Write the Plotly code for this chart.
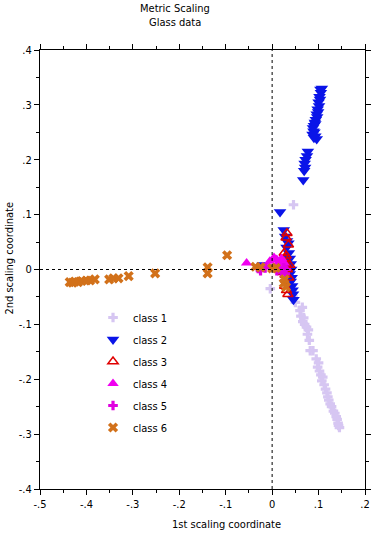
import plotly.graph_objects as go

# ---------------- data ----------------
class1_x = [0.046, -0.004, 0.065, 0.060, 0.062, 0.068, 0.066, 0.070, 0.074, 0.078, 0.076, 0.080, 0.082, 0.088,
            0.095, 0.100, 0.098, 0.102, 0.105, 0.109, 0.107, 0.112, 0.115, 0.118, 0.120, 0.122, 0.125, 0.128,
            0.132, 0.135, 0.138, 0.140, 0.142, 0.145, 0.143, 0.050, 0.045, 0.040]
class1_y = [0.118, -0.035, -0.069, -0.075, -0.085, -0.088, -0.095, -0.100, -0.105, -0.110, -0.118, -0.129, -0.148, -0.148,
            -0.163, -0.170, -0.178, -0.185, -0.192, -0.196, -0.203, -0.210, -0.218, -0.225, -0.232, -0.238, -0.245, -0.250,
            -0.258, -0.262, -0.268, -0.273, -0.280, -0.288, -0.284, -0.060, -0.050, -0.030]

class2_x = [0.107, 0.104, 0.105, 0.102, 0.103, 0.100, 0.101, 0.098, 0.099, 0.096, 0.097, 0.094, 0.092, 0.090,
            0.093, 0.088, 0.089, 0.091, 0.087, 0.093, 0.096, 0.090,
            0.077, 0.075, 0.072, 0.070, 0.071, 0.069, 0.067,
            0.017, 0.025, 0.028, 0.032, 0.035, 0.031, 0.036, 0.038, 0.040, 0.041, 0.038, 0.042, 0.040, 0.043,
            0.044, 0.045, 0.046, 0.022, 0.018, -0.030, -0.020]
class2_y = [0.330, 0.328, 0.322, 0.315, 0.310, 0.305, 0.298, 0.292, 0.287, 0.283, 0.278, 0.273, 0.268, 0.262,
            0.265, 0.258, 0.252, 0.250, 0.246, 0.243, 0.238, 0.240,
            0.215, 0.207, 0.200, 0.193, 0.186, 0.180, 0.163,
            0.105, 0.072, 0.060, 0.052, 0.048, 0.040, 0.030, 0.020, 0.010, 0.000, -0.008, -0.015, -0.022, -0.030,
            -0.038, -0.045, -0.055, 0.010, 0.002, 0.003, 0.008]

class3_x = [0.032, 0.030, 0.035, 0.028, 0.030, 0.025, 0.033, 0.028, 0.027, 0.031, 0.034, 0.020, 0.036, 0.022,
            0.030, 0.038, 0.026]
class3_y = [0.066, 0.058, 0.045, 0.020, 0.010, 0.005, 0.000, -0.010, -0.030, -0.038, -0.045, 0.015, -0.015, -0.005,
            0.025, 0.008, 0.030]

class4_x = [-0.055, 0.004, 0.010, 0.015, -0.010, 0.020, 0.024, 0.018, -0.020, 0.012, 0.026, -0.005, 0.020]
class4_y = [0.012, 0.022, 0.018, 0.014, 0.008, 0.010, 0.006, 0.002, 0.005, 0.005, 0.012, 0.015, 0.020]

class5_x = [-0.030, -0.025, 0.015, 0.020, 0.025, 0.030, 0.010, 0.028, -0.015]
class5_y = [0.002, -0.002, 0.000, -0.005, 0.003, 0.000, -0.002, -0.008, 0.003]

class6_x = [-0.436, -0.430, -0.425, -0.418, -0.410, -0.400, -0.392, -0.382, -0.351, -0.342, -0.331, -0.309,
            -0.252, -0.139, -0.139, -0.097, -0.036, -0.025, 0.000, 0.025, 0.030, 0.008, 0.027]
class6_y = [-0.023, -0.024, -0.022, -0.023, -0.021, -0.020, -0.020, -0.018, -0.018, -0.016, -0.016, -0.012,
            -0.007, 0.004, -0.007, 0.026, 0.005, 0.004, 0.002, -0.025, -0.032, 0.003, -0.018]

x_ticks = [-0.5, -0.4, -0.3, -0.2, -0.1, 0, 0.1, 0.2]
x_labels = ["-.5", "-.4", "-.3", "-.2", "-.1", "0", ".1", ".2"]
y_ticks = [-0.4, -0.3, -0.2, -0.1, 0, 0.1, 0.2, 0.3, 0.4]
y_labels = ["-.4", "-.3", "-.2", "-.1", "0", ".1", ".2", ".3", ".4"]

FONT = "Liberation Sans Narrow, DejaVu Sans Condensed, Liberation Sans, sans-serif"

W, H = 374, 534
ML, MR, MT, MB = 40, 3, 50, 45
pw, ph = W - ML - MR, H - MT - MB


def px_to_paper(px, py):
    return (px - ML) / pw, (H - MB - py) / ph


fig = go.Figure()

series = [
    ("class 1", class1_x, class1_y, dict(symbol="cross", size=8, color="#d6c6f2")),
    ("class 2", class2_x, class2_y, dict(symbol="triangle-down", size=11, color="#0a14e8")),
    ("class 3", class3_x, class3_y, dict(symbol="triangle-up-open", size=9, color="#e00000",
                                          line=dict(width=1.5, color="#e00000"))),
    ("class 4", class4_x, class4_y, dict(symbol="triangle-up", size=10, color="#f000f0")),
    ("class 5", class5_x, class5_y, dict(symbol="cross", size=8, color="#e000e0")),
    ("class 6", class6_x, class6_y, dict(symbol="x", size=9, color="#d2711a")),
]
for i, (name, xs, ys, mk) in enumerate(series):
    fig.add_trace(go.Scatter(x=xs, y=ys, mode="markers", name=name, marker=mk,
                             legendgroup=f"g{i}"))

fig.add_shape(type="line", xref="x", yref="paper", x0=0, x1=0, y0=0, y1=1,
              line=dict(color="black", width=1, dash="dot"))
fig.add_shape(type="line", xref="paper", yref="y", x0=0, x1=1, y0=0, y1=0,
              line=dict(color="black", width=1, dash="dot"))

axis_common = dict(showgrid=False, zeroline=False, showline=True, linecolor="black", linewidth=1,
                   mirror="allticks", ticks="outside", ticklen=5, tickcolor="black",
                   tickfont=dict(family=FONT, size=11, color="black"),
                   minor=dict(ticks="outside", ticklen=3, tickcolor="black", dtick=0.05))

anns = []
for text, px, py in [("Metric Scaling", 178, 8), ("Glass data", 178, 23)]:
    xp, yp = px_to_paper(px, py)
    anns.append(dict(text=text, x=xp, y=yp, xref="paper", yref="paper", showarrow=False,
                     xanchor="center", yanchor="middle", font=dict(family=FONT, size=11)))
xp, yp = px_to_paper(230, 524)
anns.append(dict(text="1st scaling coordinate", x=xp, y=yp, xref="paper", yref="paper", showarrow=False,
                 xanchor="center", yanchor="middle", font=dict(family=FONT, size=11)))
xp, yp = px_to_paper(8, 258)
anns.append(dict(text="2nd scaling coordinate", x=xp, y=yp, xref="paper", yref="paper", showarrow=False,
                 xanchor="center", yanchor="middle", textangle=-90, font=dict(family=FONT, size=11)))

lx, ly = px_to_paper(94, 303)
fig.update_layout(
    width=W, height=H,
    margin=dict(l=ML, r=MR, t=MT, b=MB),
    paper_bgcolor="white", plot_bgcolor="white",
    font=dict(family=FONT, size=11, color="black"),
    showlegend=True,
    legend=dict(x=lx, y=ly, xanchor="left", yanchor="top", bgcolor="rgba(0,0,0,0)",
                font=dict(family=FONT, size=11, color="black"), tracegroupgap=3,
                itemwidth=30),
    xaxis=dict(range=[-0.5, 0.2], tickvals=x_ticks, ticktext=x_labels, **axis_common),
    yaxis=dict(range=[-0.4, 0.4], tickvals=y_ticks, ticktext=y_labels, **axis_common),
    annotations=anns,
)

fig.write_html("out.html", config={"displayModeBar": False},
               post_script="document.body.style.margin='0';document.body.style.overflow='hidden';")
